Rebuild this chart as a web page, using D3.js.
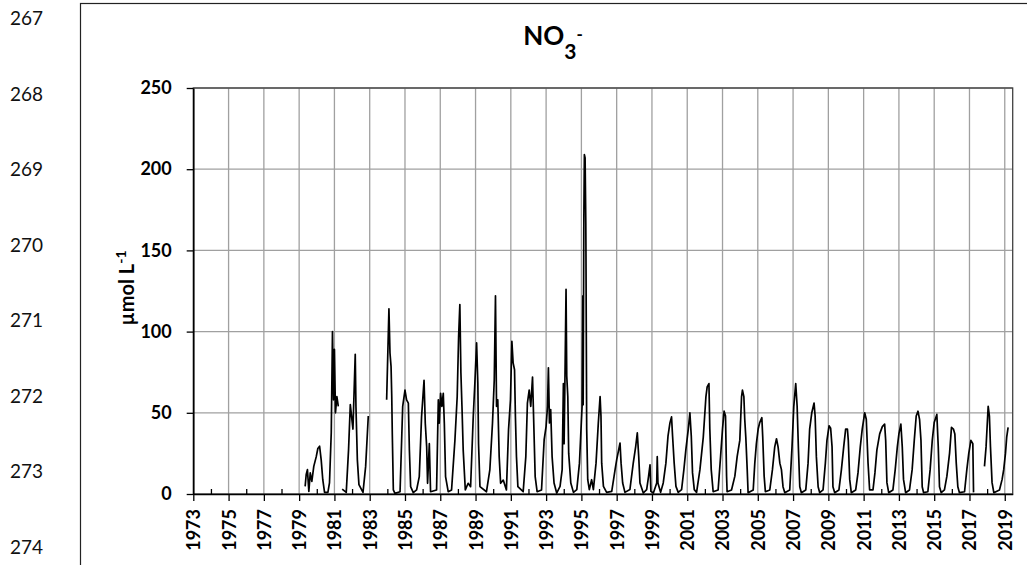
<!DOCTYPE html>
<html>
<head>
<meta charset="utf-8">
<script src="https://cdn.jsdelivr.net/npm/d3@7"></script>
<style>
  html, body { margin: 0; padding: 0; background: #fff; }
  svg { display: block; }
  text { font-family: Lato, "Open Sans", "Liberation Sans", sans-serif; }
</style>
</head>
<body>
<svg id="chart" width="1027" height="565"></svg>
<script>
// ---------- data ----------
const lineNumbers = ["267", "268", "269", "270", "271", "272", "273", "274"];
const yTickValues = [0, 50, 100, 150, 200, 250];
const yearTicks = [1973,1975,1977,1979,1981,1983,1985,1987,1989,1991,1993,1995,1997,1999,2001,2003,2005,2007,2009,2011,2013,2015,2017,2019];
const minorYearTicks = [1974,1976,1978,1980,1982,1984,1986,1988,1990,1992,1994,1996,1998,2000,2002,2004,2006,2008,2010,2012,2014,2016,2018];

// decimal year of sample, and NO3- value (µmol/L); null = gap in record
const sampleYears = [
 1979.34,1979.40,1979.47,1979.55,1979.63,1979.72,1979.83,1979.97,1980.06,1980.16,1980.25,1980.34,1980.44,1980.63,1980.72,1980.82,1980.89,1980.95,1981.00,1981.06,1981.14,1981.22,1981.30,
 1981.44,1981.67,1981.80,1981.90,1982.05,1982.18,1982.22,1982.30,1982.39,1982.62,1982.77,1982.92,1983.40,
 1983.96,1984.09,1984.15,1984.21,1984.25,1984.28,1984.34,1984.43,
 1984.72,1984.81,1984.87,1985.00,1985.09,1985.19,1985.25,1985.32,1985.47,
 1985.66,1985.81,1985.94,1986.08,1986.15,1986.23,1986.28,1986.38,1986.45,
 1986.79,1986.89,1986.94,1987.02,1987.09,1987.17,1987.23,1987.30,1987.45,
 1987.64,1987.83,1987.96,1988.04,1988.11,1988.17,1988.23,1988.30,1988.42,1988.58,
 1988.72,1988.87,1988.96,1989.06,1989.13,1989.17,1989.25,
 1989.62,1989.81,1989.96,1990.06,1990.13,1990.19,1990.26,1990.34,1990.42,1990.57,
 1990.75,1990.87,1990.98,1991.06,1991.13,1991.21,1991.26,1991.32,1991.40,
 1991.70,1991.85,1991.94,1992.04,1992.13,1992.23,1992.30,1992.38,1992.49,
 1992.74,1992.89,1993.00,1993.08,1993.13,1993.19,1993.26,1993.34,1993.45,1993.60,
 1993.79,1993.91,1993.98,1994.02,1994.08,1994.13,1994.17,1994.23,1994.28,1994.40,1994.55,
 1994.74,1994.89,1994.96,1995.04,1995.08,1995.10,1995.14,1995.17,1995.21,1995.25,1995.26,1995.30,1995.36,1995.45,
 1995.58,1995.68,1995.83,1995.96,1996.06,1996.11,1996.15,1996.25,1996.43,
 1996.72,1996.91,1997.00,1997.11,1997.19,1997.25,1997.34,1997.47,
 1997.75,1997.94,1998.08,1998.17,1998.25,1998.32,1998.51,
 1998.70,1998.81,1998.89,1998.94,1999.08,1999.27,1999.30,1999.34,1999.49,
 1999.64,1999.79,1999.91,2000.02,2000.11,2000.17,2000.26,2000.36,2000.49,
 2000.68,2000.81,2000.92,2001.06,2001.15,2001.23,2001.30,2001.40,2001.53,
 2001.72,2001.91,2002.06,2002.13,2002.23,2002.28,2002.36,2002.47,
 2002.75,2002.89,2003.00,2003.09,2003.17,2003.23,2003.26,
 2003.51,2003.70,2003.83,2003.98,2004.08,2004.13,2004.21,2004.26,2004.32,2004.40,2004.45,
 2004.74,2004.83,2004.92,2005.02,2005.11,2005.23,2005.28,2005.36,2005.43,
 2005.68,2005.83,2005.96,2006.06,2006.15,2006.25,2006.34,2006.43,2006.53,
 2006.81,2006.94,2007.04,2007.15,2007.23,2007.30,2007.38,2007.47,
 2007.72,2007.85,2007.94,2008.06,2008.19,2008.25,2008.32,2008.42,2008.51,
 2008.70,2008.83,2008.92,2009.04,2009.13,2009.21,2009.26,2009.36,
 2009.60,2009.74,2009.87,2009.98,2010.08,2010.13,2010.21,2010.30,
 2010.55,2010.68,2010.81,2010.92,2011.06,2011.15,2011.25,2011.34,
 2011.53,2011.64,2011.75,2011.91,2012.06,2012.19,2012.25,2012.32,2012.42,
 2012.66,2012.79,2012.91,2013.00,2013.11,2013.19,2013.26,2013.38,
 2013.60,2013.75,2013.87,2013.98,2014.08,2014.17,2014.25,2014.32,2014.40,
 2014.64,2014.77,2014.89,2015.00,2015.15,2015.23,2015.30,2015.40,
 2015.58,2015.72,2015.87,2015.98,2016.09,2016.17,2016.25,2016.34,2016.43,
 2016.72,2016.85,2016.96,2017.08,2017.19,2017.23,2017.50,
 2017.85,2017.94,2018.06,2018.13,2018.19,2018.28,2018.38,
 2018.70,2018.85,2018.94,2019.04,2019.11,2019.19
];
const no3Values = [
 4.7,12,15,1.6,13,7.8,17,23,28,29.4,21,8.8,1,1,6.8,37.7,100,58,89,50,60,54,null,
 3,1,27,55,40,86,54,21,5.8,1,17,48,null,
 58,114,86.8,78.6,60,37.4,2.5,0.4,
 1.4,33,54,64,58,56,27,4.5,0.8,
 2.5,10.7,47.7,70,43.6,29,6.6,31,1.4,
 2.5,58,43.6,62,54,62,43.6,10.7,1.4,
 2.5,33,60,97,116.7,74.5,54,27,2.5,6.6,
 4.5,47.7,68,93,68,31,4.5,
 1.4,14.8,43.6,70,122,54,58,23,6.6,8.6,
 2.5,39.5,58,94,80.7,76.5,47.7,23,4.5,
 1.4,23,56,64,54,72,43.6,10.7,1.4,
 2.5,33.5,41.7,54,77.7,43.8,52,23,6.8,0.6,
 4.7,15,68,31,81,126,72.6,60,25,6.8,1,
 2.7,19,35.6,54,122,55,171,209,207,167,146.5,40,8.8,2.7,
 8.8,2.7,19,43.8,60,48,19,4.7,1,
 1.6,15,21,27,31.4,19,6.8,1,
 2.7,19,29.4,37.6,23,6.8,0.6,
 2.7,11,18,1.6,0.6,6.8,23,6.8,1,
 6.8,19,35.6,43.8,47.5,35.6,19,4.7,1,
 2.7,15,27,40,50,35.6,13,2.7,1,
 15,35,60,66,68,40,15,1.4,
 2.5,23,40,51,48,11,1.4,
 2.5,11,23,33,60,64,60,46,35,15,0.8,
 2.5,19,31,40,44,47,35,11,1.4,
 2.5,15,29,34,29,19,15,4.5,0.8,
 2.5,29,54,68,54,29,4.5,0.8,
 2.5,19,40,50,56,48,23,4.5,0.8,
 2.5,19,33,42,40.5,29,4.5,0.8,
 2.5,15,29,40,40,33,9,0.8,
 2.5,13,29,40,50,46,19,2.5,
 2.5,13,27,37,41.5,43,33,7,0.8,
 2.5,15,29,37,43,29,9,0.8,
 2.5,15,33,48,51,46,33,4.5,0.8,
 1.4,15,33,44,49,29,4.5,0.8,
 2.5,11,25,41,40,37,19,4.5,0.8,
 1.4,15,25,33,31,1,null,
 17,29,54,48,29,7,0.8,
 2.5,9,15,25,35,41
];

// ---------- layout ----------
const svg = d3.select("#chart");
const plot = { left: 193.3, right: 1012.7, top: 88, bottom: 494 };

const x = d3.scaleLinear().domain([1973, 2019.45]).range([plot.left, plot.right]);
const y = d3.scaleLinear().domain([0, 250]).range([plot.bottom, plot.top]);

// manuscript line numbers
svg.append("g").selectAll("text")
  .data(lineNumbers)
  .join("text")
  .attr("x", 10)
  .attr("y", (d, i) => 25 + i * 75.5)
  .attr("font-size", 19)
  .attr("fill", "#111")
  .text(d => d);

// outer frame (left and top edges visible)
svg.append("rect")
  .attr("x", 80.5).attr("y", 3.5)
  .attr("width", 960).attr("height", 580)
  .attr("fill", "none").attr("stroke", "#222").attr("stroke-width", 1.2);

// gridlines
const grid = svg.append("g").attr("stroke", "#a0a0a0").attr("stroke-width", 1.3);
grid.selectAll("line.v")
  .data(yearTicks.slice(1))
  .join("line")
  .attr("x1", d => x(d)).attr("x2", d => x(d))
  .attr("y1", plot.top).attr("y2", plot.bottom);
grid.selectAll("line.h")
  .data(yTickValues.slice(1))
  .join("line")
  .attr("x1", plot.left).attr("x2", plot.right)
  .attr("y1", d => y(d)).attr("y2", d => y(d));

// plot border
svg.append("rect")
  .attr("x", plot.left).attr("y", plot.top)
  .attr("width", plot.right - plot.left).attr("height", plot.bottom - plot.top)
  .attr("fill", "none").attr("stroke", "#404040").attr("stroke-width", 1.3);

// data line
const series = sampleYears.map((t, i) => ({ t, v: no3Values[i] }));
const line = d3.line()
  .defined(d => d.v !== null)
  .x(d => x(d.t))
  .y(d => y(d.v));
svg.append("path")
  .datum(series)
  .attr("d", line)
  .attr("fill", "none")
  .attr("stroke", "#000")
  .attr("stroke-width", 1.7)
  .attr("stroke-linejoin", "round");

// x axis
const xAxis = svg.append("g")
  .attr("transform", `translate(0,${plot.bottom})`)
  .call(d3.axisBottom(x).tickValues(yearTicks).tickFormat(d3.format("d")).tickSize(7).tickSizeOuter(0));
xAxis.select(".domain").attr("stroke", "#000").attr("stroke-width", 1.6);
xAxis.selectAll(".tick line").attr("stroke", "#000").attr("stroke-width", 1.3);
xAxis.selectAll(".tick text")
  .attr("transform", "rotate(-90)")
  .attr("x", -15).attr("y", 0).attr("dy", "0.36em")
  .style("text-anchor", "end")
  .attr("font-size", 18).attr("font-weight", "bold").attr("fill", "#000")
  .attr("font-family", "Lato, 'Open Sans', sans-serif");

// minor ticks (inside, upward)
svg.append("g")
  .attr("transform", `translate(0,${plot.bottom})`)
  .call(d3.axisTop(x).tickValues(minorYearTicks).tickFormat("").tickSize(5).tickSizeOuter(0))
  .call(g => g.select(".domain").remove())
  .call(g => g.selectAll(".tick line").attr("stroke", "#000").attr("stroke-width", 1.3));

// y axis
const yAxis = svg.append("g")
  .attr("transform", `translate(${plot.left},0)`)
  .call(d3.axisLeft(y).tickValues(yTickValues).tickSize(6.6).tickPadding(15).tickSizeOuter(0));
yAxis.select(".domain").attr("stroke", "#000").attr("stroke-width", 1.6);
yAxis.selectAll(".tick line").attr("stroke", "#000").attr("stroke-width", 1.3);
yAxis.selectAll(".tick text")
  .attr("font-size", 18).attr("font-weight", "bold").attr("fill", "#000")
  .attr("font-family", "Lato, 'Open Sans', sans-serif");

// y axis title
const yTitle = svg.append("text")
  .attr("transform", "translate(134,288) rotate(-90)")
  .attr("text-anchor", "middle")
  .attr("font-size", 20).attr("font-weight", "bold").attr("fill", "#000");
yTitle.append("tspan").text("µmol L");
yTitle.append("tspan").attr("font-size", 14).attr("dy", -8).text("-1");

// chart title
const title = svg.append("text")
  .attr("x", 553).attr("y", 45)
  .attr("text-anchor", "middle")
  .attr("font-size", 26).attr("font-weight", "bold").attr("fill", "#000");
title.append("tspan").text("NO");
title.append("tspan").attr("font-size", 21).attr("dy", 14).text("3");
title.append("tspan").attr("font-size", 17).attr("dy", -19).text("-");
</script>
</body>
</html>
